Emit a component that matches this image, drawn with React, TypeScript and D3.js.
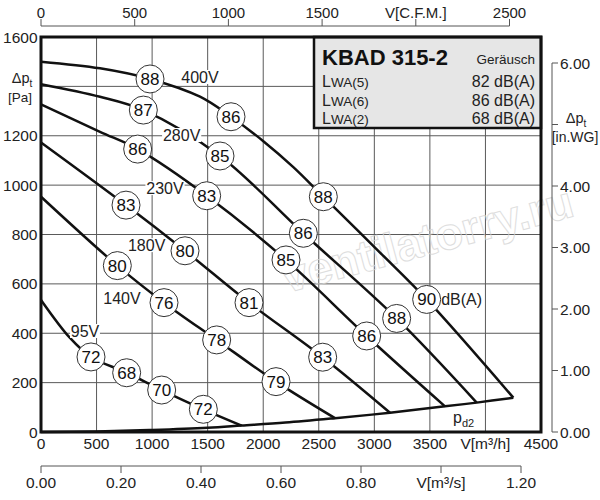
import React from "react";
import * as d3 from "d3";

// flow axis ticks and labels
const flowTicks = [0, 500, 1000, 1500, 2000, 2500, 3000, 3500, 4000, 4500];
const flowLabels = ["0", "500", "1000", "1500", "2000", "2500", "3000", "3500", "V[m³/h]", "4500"];
const paTicks = [0, 200, 400, 600, 800, 1000, 1200, 1400, 1600];
const paLabels = ["0", "200", "400", "600", "800", "1000", "1200", "", "1600"];
const cfmTicks = [0, 500, 1000, 1500, 2000, 2500];
const cfmLabels = ["0", "500", "1000", "1500", "V[C.F.M.]", "2500"];
const m3sTicks = [0, 0.2, 0.4, 0.6, 0.8, 1.0, 1.2];
const m3sLabels = ["0.00", "0.20", "0.40", "0.60", "0.80", "V[m³/s]", "1.20"];
const wgTicks = [0, 1, 2, 3, 4, 5, 6];
const wgLabels = ["0.00", "1.00", "2.00", "3.00", "4.00", "", "6.00"];

// fan curves (flow m3/h, pressure Pa)
const voltages = ["400V", "280V", "230V", "180V", "140V", "95V"];
const q400 = [0, 531, 981, 1431, 1710, 2001, 2271, 2541, 3051, 3471, 4251];
const p400 = [1500, 1473, 1430, 1358, 1277, 1178, 1073, 953, 727, 537, 139];
const q280 = [0, 531, 921, 1611, 2361, 3201, 3921];
const p280 = [1409, 1358, 1304, 1118, 805, 460, 119];
const q230 = [0, 531, 870, 1491, 2205, 2931, 3636];
const p230 = [1327, 1216, 1146, 957, 697, 389, 104];
const q180 = [0, 765, 1296, 1872, 2535, 3141];
const p180 = [1173, 919, 734, 524, 303, 78];
const q140 = [0, 687, 1107, 1581, 2115, 2646];
const p140 = [953, 674, 524, 373, 204, 56];
const q95 = [0, 261, 450, 771, 1086, 1461, 1806];
const p95 = [535, 381, 304, 240, 170, 92, 26];

// dynamic pressure line
const qPd2 = [0, 500, 1000, 1500, 1806, 2200, 2646, 3141, 3636, 3921, 4251];
const pPd2 = [0, 2, 8, 17, 26, 38, 56, 78, 104, 119, 139];

// sound level markers on each curve
const dB400 = [88, 86, 88, 90];
const dbQ400 = [981, 1710, 2541, 3471];
const dbP400 = [1430, 1277, 953, 537];
const dB280 = [87, 85, 86, 88];
const dbQ280 = [921, 1611, 2361, 3201];
const dbP280 = [1304, 1118, 805, 460];
const dB230 = [86, 83, 85, 86];
const dbQ230 = [870, 1491, 2205, 2931];
const dbP230 = [1146, 957, 697, 389];
const dB180 = [83, 80, 81, 83];
const dbQ180 = [765, 1296, 1872, 2535];
const dbP180 = [919, 734, 524, 303];
const dB140 = [80, 76, 78, 79];
const dbQ140 = [687, 1107, 1581, 2115];
const dbP140 = [674, 524, 373, 204];
const dB95 = [72, 68, 70, 72];
const dbQ95 = [450, 771, 1086, 1461];
const dbP95 = [304, 240, 170, 92];

// legend
const legendTitle = "KBAD 315-2";
const legendNames = ["(5)", "(6)", "(2)"];
const legendValues = ["82 dB(A)", "86 dB(A)", "68 dB(A)"];

const FONT = '"Liberation Sans", Arial, Helvetica, sans-serif';

const curves = [
  { q: q400, p: p400, dB: dB400, dq: dbQ400, dp: dbP400 },
  { q: q280, p: p280, dB: dB280, dq: dbQ280, dp: dbP280 },
  { q: q230, p: p230, dB: dB230, dq: dbQ230, dp: dbP230 },
  { q: q180, p: p180, dB: dB180, dq: dbQ180, dp: dbP180 },
  { q: q140, p: p140, dB: dB140, dq: dbQ140, dp: dbP140 },
  { q: q95, p: p95, dB: dB95, dq: dbQ95, dp: dbP95 },
];

// where the voltage names sit (data units)
const voltPos = [
  [1431, 1438],
  [1266, 1203],
  [1116, 988],
  [951, 757],
  [729, 543],
  [396, 409],
];

export default function App() {
  const x = d3.scaleLinear().domain([0, 4500]).range([41, 541]);
  const y = d3.scaleLinear().domain([0, 1600]).range([432, 37]);
  const xCfm = d3.scaleLinear().domain([0, 2500]).range([41, 509.5]);
  const xM3s = d3.scaleLinear().domain([0, 1.2]).range([41, 521]);
  const yWg = d3.scaleLinear().domain([0, 6]).range([432, 63]);

  const line = d3
    .line<[number, number]>()
    .x((d) => x(d[0]))
    .y((d) => y(d[1]))
    .curve(d3.curveCatmullRom.alpha(0.5));

  const pd2: [number, number][] = qPd2.map((q, i) => [q, pPd2[i]]);

  return (
    <svg
      width={600}
      height={500}
      style={{ position: "absolute", left: 0, top: 0, background: "#fff" }}
      fontFamily={FONT}
    >
      <rect width={600} height={500} fill="#fff" />

      {/* grid */}
      {flowTicks.slice(1, -1).map((t) => (
        <line key={"gx" + t} x1={x(t)} x2={x(t)} y1={y(0)} y2={y(1600)} stroke="#5a5a5a" strokeWidth={1} />
      ))}
      {paTicks.slice(1, -1).map((t) => (
        <line key={"gy" + t} x1={x(0)} x2={x(4500)} y1={y(t)} y2={y(t)} stroke="#5a5a5a" strokeWidth={1} />
      ))}

      {/* watermark */}
      <text
        x={287}
        y={293}
        transform="rotate(-15 287 293)"
        fontSize={45}
        fontWeight="bold"
        fill="none"
        stroke="#d6d6d6"
        strokeWidth={1}
        opacity={0.8}
      >
        ventilatorry.ru
      </text>

      {/* legend box */}
      <rect x={314} y={37} width={227} height={91} fill="#e6e6e6" stroke="#111" strokeWidth={2.5} />
      <text x={322} y={65} fontSize={22} fontWeight="bold" fill="#111">
        {legendTitle}
      </text>
      <text x={535} y={64} fontSize={13.5} textAnchor="end" fill="#222">
        Geräusch
      </text>
      {legendNames.map((n, i) => (
        <g key={n}>
          <text x={322} y={87 + i * 18.5} fill="#222">
            <tspan fontSize={16}>L</tspan>
            <tspan fontSize={13.5}>{"WA" + n}</tspan>
          </text>
          <text x={535} y={87 + i * 18.5} fontSize={16} textAnchor="end" fill="#222">
            {legendValues[i]}
          </text>
        </g>
      ))}

      {/* pd2 line */}
      <path d={line(pd2) || ""} fill="none" stroke="#111" strokeWidth={2.5} />

      {/* fan curves */}
      {curves.map((c, i) => (
        <path
          key={"c" + i}
          d={line(c.q.map((q, j) => [q, c.p[j]] as [number, number])) || ""}
          fill="none"
          stroke="#111"
          strokeWidth={2.5}
        />
      ))}

      {/* voltage names */}
      {voltages.map((v, i) => {
        const cx = x(voltPos[i][0]);
        const cy = y(voltPos[i][1]);
        const w = v.length * 9.3;
        return (
          <g key={v}>
            <rect x={cx - w / 2 - 1} y={cy - 7} width={w + 2} height={14} fill="#fff" />
            <text x={cx} y={cy + 5.8} fontSize={16} textAnchor="middle" fill="#222">
              {v}
            </text>
          </g>
        );
      })}

      {/* dB markers */}
      {curves.map((c, i) =>
        c.dB.map((d, j) => (
          <g key={"m" + i + "-" + j}>
            <circle cx={x(c.dq[j])} cy={y(c.dp[j])} r={14} fill="#fff" stroke="#333" strokeWidth={1} />
            <text x={x(c.dq[j])} y={y(c.dp[j]) + 6} fontSize={17} textAnchor="middle" fill="#111">
              {d}
            </text>
          </g>
        ))
      )}
      <text x={x(dbQ400[3]) + 14.5} y={y(dbP400[3]) + 6} fontSize={16} fill="#222">
        dB(A)
      </text>

      {/* pd2 label */}
      <text x={453} y={423} fontSize={16} fill="#222">
        p<tspan fontSize={11} dy={4}>d2</tspan>
      </text>

      {/* frame */}
      <rect x={x(0)} y={y(1600)} width={x(4500) - x(0)} height={y(0) - y(1600)} fill="none" stroke="#111" strokeWidth={3} />

      {/* left axis labels */}
      {paTicks.map((t, i) => (
        <text key={"ly" + t} x={37.5} y={y(t) + 5.5} fontSize={15.5} textAnchor="end" fill="#222">
          {paLabels[i]}
        </text>
      ))}
      <text x={22} y={83} fontSize={14.5} textAnchor="middle" fill="#222">
        Δp<tspan fontSize={10} dy={4}>t</tspan>
      </text>
      <text x={20} y={102} fontSize={13.5} textAnchor="middle" fill="#222">
        [Pa]
      </text>

      {/* bottom flow labels */}
      {flowTicks.map((t, i) => (
        <text key={"lx" + t} x={x(t)} y={448.5} fontSize={15.5} textAnchor="middle" fill="#222">
          {flowLabels[i]}
        </text>
      ))}

      {/* top CFM axis */}
      <line x1={xCfm(0)} x2={xCfm(2500)} y1={26} y2={26} stroke="#555" strokeWidth={1} />
      {cfmTicks.map((t, i) => (
        <g key={"cfm" + t}>
          <line x1={xCfm(t)} x2={xCfm(t)} y1={19} y2={26} stroke="#555" strokeWidth={1} />
          <text x={xCfm(t)} y={17.5} fontSize={15} textAnchor="middle" fill="#222">
            {cfmLabels[i]}
          </text>
        </g>
      ))}

      {/* bottom m3/s axis */}
      <line x1={xM3s(0)} x2={xM3s(1.2)} y1={466} y2={466} stroke="#555" strokeWidth={1} />
      {m3sTicks.map((t, i) => (
        <g key={"m3s" + t}>
          <line x1={xM3s(t)} x2={xM3s(t)} y1={466} y2={473} stroke="#555" strokeWidth={1} />
          <text x={xM3s(t)} y={488} fontSize={15.5} textAnchor="middle" fill="#222">
            {m3sLabels[i]}
          </text>
        </g>
      ))}

      {/* right in.WG axis */}
      <line x1={552} x2={552} y1={yWg(0)} y2={yWg(6)} stroke="#555" strokeWidth={1} />
      {wgTicks.map((t, i) => (
        <g key={"wg" + t}>
          <line x1={552} x2={558} y1={yWg(t)} y2={yWg(t)} stroke="#555" strokeWidth={1} />
          <text x={560} y={yWg(t) + 5.5} fontSize={15.5} fill="#222">
            {wgLabels[i]}
          </text>
        </g>
      ))}
      <text x={576} y={123} fontSize={14.5} textAnchor="middle" fill="#222">
        Δp<tspan fontSize={10} dy={4}>t</tspan>
      </text>
      <text x={575} y={142} fontSize={14} textAnchor="middle" fill="#222">
        [in.WG]
      </text>
    </svg>
  );
}
